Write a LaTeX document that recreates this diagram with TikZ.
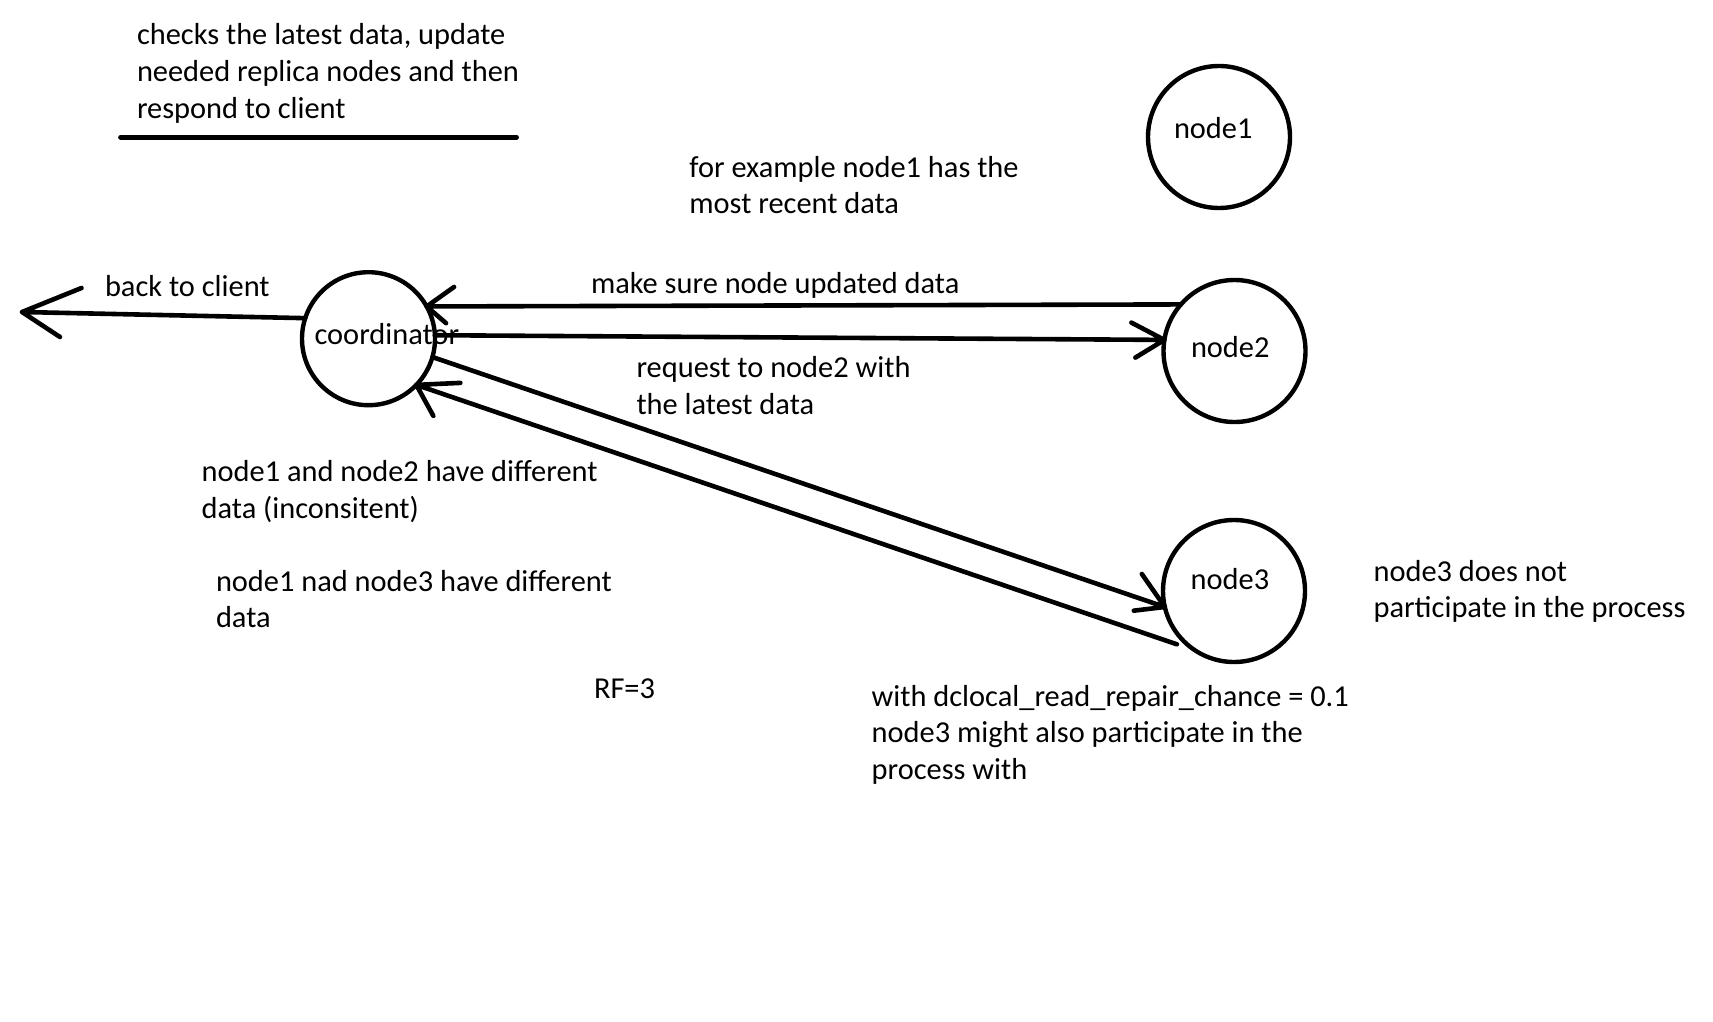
\documentclass[tikz,border=0pt]{standalone}
\usepackage{fontspec}
\setmainfont{Carlito}
\usetikzlibrary{shapes.geometric}
\newcommand\txtlines[1]{\vtop{\baselineskip=36.7pt\lineskip=0pt\lineskiplimit=-100pt\halign{##\hfil\cr#1\crcr}}}
\begin{document}
\begin{tikzpicture}[x=1pt, y=-1pt, line cap=round, line join=round,
  font=\fontsize{30.4}{36.7}\selectfont,
  circ/.style={draw, ellipse, line width=4.4pt, inner sep=0pt, outer sep=0pt, minimum width=#1, minimum height=#1},
  txt/.style={anchor=base west, inner sep=0pt, outer sep=0pt},
  wire/.style={line width=4.6pt}]
\fill[white] (0,0) rectangle (1713,1022);
\useasboundingbox (0,0) rectangle (1713,1022);

% circles
\node[circ=142pt] (n1) at (1219,137) {};
\node[circ=142pt] (n2) at (1234.5,351) {};
\node[circ=142pt] (n3) at (1234,591) {};
\node[circ=133pt] (coord) at (368.5,338.7) {};
\node[txt] (n1t) at ([shift={(-45,2)}]n1.center) {node1};
\node[txt] (n2t) at ([shift={(-43.5,6.7)}]n2.center) {node2};
\node[txt] (n3t) at ([shift={(-43.3,-2)}]n3.center) {node3};
\node[txt] (coordt) at ([shift={(-53.9,5.4)}]coord.center) {coordinator};

% texts
\node[txt] (top) at (137,44.8) {\txtlines{checks the latest data, update\cr needed replica nodes and then\cr respond to client}};
\draw[line width=4.7pt] (120.5,137.3) -- (516.6,137.3);
\node[txt] (ex) at (689.4,177) {\txtlines{for example node1 has the\cr most recent data}};
\node[txt] (lback) at (105,296) {back to client};
\node[txt] (lmake) at (591,293) {make sure node updated data};
\node[txt] (lreq) at (636.5,377.7) {\txtlines{request to node2 with\cr the latest data}};
\node[txt] (d12) at (201.7,481.7) {\txtlines{node1 and node2 have different\cr data (inconsitent)}};
\node[txt] (d13) at (216,591) {\txtlines{node1 nad node3 have different\cr data}};
\node[txt] (rf) at (594,698.5) {RF=3};
\node[txt] (dcl) at (871.7,706) {\txtlines{with dclocal\_read\_repair\_chance = 0.1\cr node3 might also participate in the\cr process with}};
\node[txt] (n3np) at (1373.6,581) {\txtlines{node3 does not\cr participate in the process}};

% connectors
\coordinate (client) at (22,312);
\draw[wire] (coord.162) -- (client) -- ++(59.5,-24) (client) -- ++(38,25);
\draw[wire] (n2.139.5) -- (coord.29.3) -- ++(27.4,-19.5) (coord.29.3) -- ++(19.4,16.7);
\draw[wire] (coord.3.2) -- (n2.171.7) -- ++(-33,-17.3) (n2.171.7) -- ++(-29,17.7);
\draw[wire] (coord.344.4) -- (n3.193.5) -- ++(-23,-33) (n3.193.5) -- ++(-31,3.7);
\draw[wire] ([shift={(-6,4)}]n3.224) -- (coord.316.3) -- ++(44,-2) (coord.316.3) -- ++(17,31);
\end{tikzpicture}
\end{document}
